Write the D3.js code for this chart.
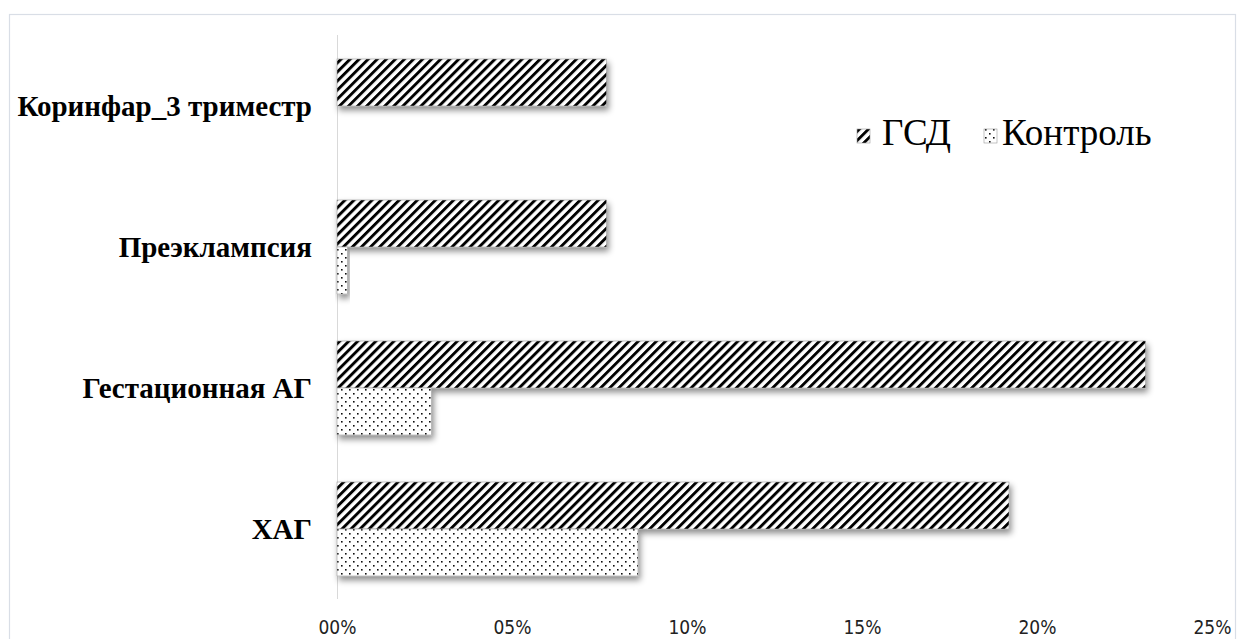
<!DOCTYPE html>
<html><head><meta charset="utf-8">
<script src="https://cdn.jsdelivr.net/npm/d3@7"></script>
<style>body{margin:0;background:#fff}svg{display:block}</style>
</head><body>
<svg id="c" width="1238" height="639"></svg>
<script>
const categories = ["Коринфар_3 триместр", "Преэклампсия", "Гестационная АГ", "ХАГ"];
const seriesNames = ["ГСД", "Контроль"];
const gsd = [0.077, 0.077, 0.231, 0.192];
const control = [0, 0.003, 0.027, 0.086];
const tickValues = [0, 0.05, 0.10, 0.15, 0.20, 0.25];
const tickLabels = ["00%", "05%", "10%", "15%", "20%", "25%"];

const svg = d3.select("#c");
const defs = svg.append("defs");
const stripes = defs.append("pattern").attr("id","stripes").attr("patternUnits","userSpaceOnUse")
  .attr("width",6.4).attr("height",6.4).attr("patternTransform","rotate(45)");
stripes.append("rect").attr("width",6.4).attr("height",6.4).attr("fill","#fff");
stripes.append("rect").attr("width",2.9).attr("height",6.4).attr("fill","#000");
const dots = defs.append("pattern").attr("id","dots").attr("patternUnits","userSpaceOnUse")
  .attr("width",8).attr("height",8);
dots.append("rect").attr("width",8).attr("height",8).attr("fill","#fff");
dots.append("rect").attr("x",1).attr("y",1).attr("width",1.6).attr("height",1.6).attr("fill","#111");
dots.append("rect").attr("x",5).attr("y",5).attr("width",1.6).attr("height",1.6).attr("fill","#111");
const f = defs.append("filter").attr("id","sh").attr("x","-10%").attr("y","-30%").attr("width","130%").attr("height","180%");
f.append("feDropShadow").attr("dx",2).attr("dy",4).attr("stdDeviation",3).attr("flood-color","#000").attr("flood-opacity",0.45);

// chart border
svg.append("rect").attr("x",9.5).attr("y",14.5).attr("width",1226).attr("height",700)
  .attr("fill","none").attr("stroke","#d9dee6").attr("stroke-width",1.2);

const x = d3.scaleLinear().domain([0,0.25]).range([337,1212]);
const y = d3.scaleBand().domain(categories).range([35.5,599.5]).paddingInner(1/3).paddingOuter(1/6);
const ySub = d3.scaleBand().domain(seriesNames).range([0,y.bandwidth()]);

// y axis line
svg.append("line").attr("x1",337.5).attr("x2",337.5).attr("y1",35).attr("y2",599)
  .attr("stroke","#d9d9d9").attr("stroke-width",1);

const data = [];
categories.forEach((c,i)=>{
  data.push({c, s:"ГСД", v:gsd[i]});
  data.push({c, s:"Контроль", v:control[i]});
});
svg.append("g").selectAll("rect").data(data.filter(d=>d.v>0)).join("rect")
  .attr("x",x(0)).attr("y",d=>y(d.c)+ySub(d.s))
  .attr("width",d=>x(d.v)-x(0)).attr("height",ySub.bandwidth())
  .attr("fill",d=>d.s==="ГСД"?"url(#stripes)":"url(#dots)")
  .attr("stroke","#999").attr("stroke-width",0.6)
  .attr("filter","url(#sh)");

// category labels
svg.append("g").selectAll("text").data(categories).join("text")
  .attr("x",312).attr("y",d=>y(d)+y.bandwidth()/2).attr("dy","0.35em")
  .attr("text-anchor","end").attr("font-family","'Liberation Serif', serif")
  .attr("font-weight","bold").attr("font-size",29).attr("fill","#000").text(d=>d);

// x axis
const xAxis = d3.axisBottom(x).tickValues(tickValues).tickSize(0).tickPadding(0).tickFormat((d,i)=>tickLabels[i]);
const gx = svg.append("g").attr("transform","translate(0,634)").call(xAxis);
gx.select(".domain").remove();
gx.selectAll("text").attr("font-family","'DejaVu Sans Condensed',sans-serif")
  .attr("font-size",19).attr("fill","#222").attr("dy","0").attr("y",0);

// legend
const leg = [{s:"ГСД", sx:857, tx:882, fill:"url(#stripes)"},{s:"Контроль", sx:984, tx:1002, fill:"url(#dots)"}];
const lg = svg.append("g");
lg.selectAll("rect").data(leg).join("rect").attr("x",d=>d.sx).attr("y",129).attr("width",13).attr("height",14)
  .attr("fill",d=>d.fill).attr("stroke","#999").attr("stroke-width",0.6);
lg.selectAll("text").data(leg).join("text").attr("x",d=>d.tx).attr("y",145)
  .attr("font-family","'Liberation Serif', serif").attr("font-size",37).attr("fill","#000").text(d=>d.s);
</script>
</body></html>
